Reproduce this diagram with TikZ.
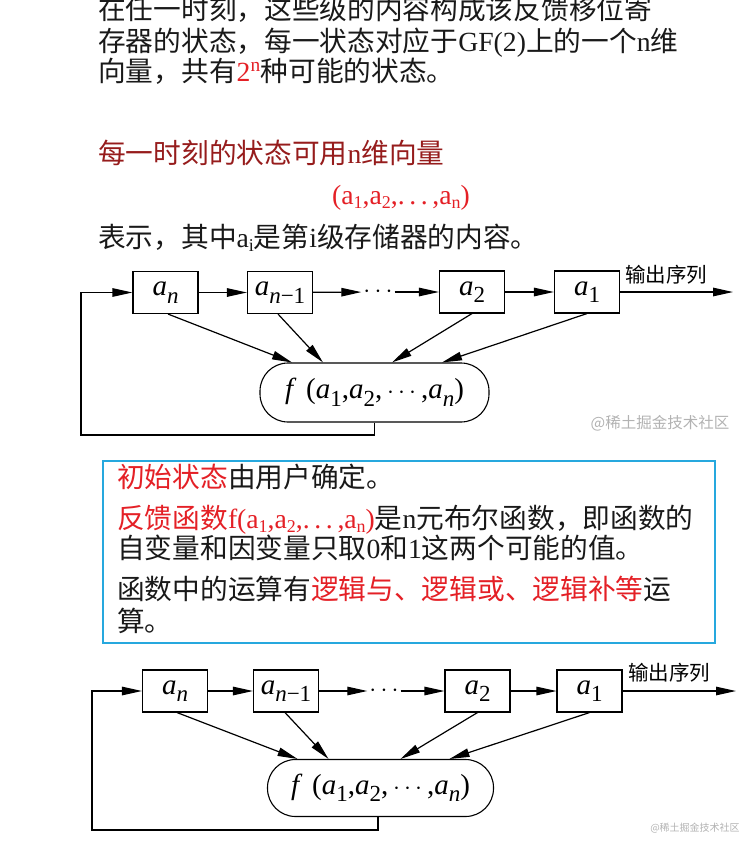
\documentclass[tikz,border=0pt]{standalone}
\usepackage{fontspec}
\setmainfont{Liberation Serif}
\newfontfamily\cjkf{Noto Sans CJK SC}
\usetikzlibrary{arrows.meta}
\definecolor{myred}{RGB}{228,32,38}
\definecolor{dred}{RGB}{150,28,28}
\definecolor{myblue}{RGB}{38,168,222}
\definecolor{txt}{RGB}{25,25,25}
\definecolor{wm}{RGB}{178,178,178}
\newcommand\zh[1]{{\cjkf #1}}
% subscript for diagram labels (29pt base)
\newcommand\lsub[2]{\textit{#1}\raisebox{-7.5pt}{\fontsize{23}{24}\selectfont #2}}
% subscript for running text (27.7pt base)
\newcommand\tsub[2]{#1\raisebox{-4.5pt}{\fontsize{18}{20}\selectfont #2}}
\newcommand\flabel{\textit{f}\,\,(\lsub{a}{1},\lsub{a}{2},\,$\cdots$\,,\lsub{a}{\textit{n}})}
\newcommand\avec{(\tsub{a}{1},\tsub{a}{2},.\,.\,.\,,\tsub{a}{n})}
\tikzset{
  ln/.style={anchor=base west, inner sep=0, font=\fontsize{27.7}{30}\selectfont, text=txt},
  reg/.style={draw, line width=1.1pt, minimum width=65, minimum height=42, inner sep=0, font=\fontsize{29}{30}\selectfont},
  fn/.style={draw, line width=1.1pt, rounded corners=28pt, minimum width=229, minimum height=59, inner sep=0, font=\fontsize{29}{30}\selectfont},
  arr/.style={line width=1.2pt, -{Triangle[length=20pt,width=8.5pt]}},
  outl/.style={font=\cjkf\fontsize{20.5}{22}\selectfont, inner sep=0},
  wmk/.style={text=wm, inner sep=0}
}
\begin{document}
\begin{tikzpicture}[x=1pt,y=-1pt]
\useasboundingbox (0,0) rectangle (754,849);
% top text
\node[ln] (t1) at (98,19) {\zh{在任一时刻，这些级的内容构成该反馈移位寄}};
\node[ln] (t2) at (98,51) {\zh{存器的状态，每一状态对应于}GF(2)\zh{上的一个}n\zh{维}};
\node[ln] (t3) at (98,81) {\zh{向量，共有}\textcolor{myred}{2\textsuperscript{n}}\zh{种可能的状态。}};
\node[ln,text=dred] (t4) at (98,163) {\zh{每一时刻的状态可用}n\zh{维向量}};
\node[ln,text=myred] (t5) at (332,204) {\avec};
\node[ln] (t6) at (98,247) {\zh{表示，其中}\tsub{a}{i}\zh{是第}i\zh{级存储器的内容。}};
% diagram 1
\node[reg] (an1) at (165.5,292.5) {\lsub{a}{\textit{n}}};
\node[reg] (am1) at (280,292.5) {\lsub{a}{\textit{n}−1}};
\node[inner sep=2pt, font=\fontsize{29}{30}\selectfont] (dt1) at (378,292) {$\cdots$};
\node[reg] (a21) at (472,292) {\lsub{a}{2}};
\node[reg] (a11) at (587,292) {\lsub{a}{1}};
\node[fn] (f1) at (374.5,392.5) {\flabel};
\coordinate (o1) at (733,292);
\coordinate (fb1) at (81,435);
\node[outl] (ol1) at (666,275) {输出序列};
\node[wmk, font=\cjkf\fontsize{15.5}{17}\selectfont] (w1) at (660,423) {@稀土掘金技术社区};
\draw[arr] (an1) -- (am1);
\draw[arr] (am1) -- (dt1);
\draw[arr] (dt1) -- (a21);
\draw[arr] (a21) -- (a11);
\draw[arr] (a11.east) -- (o1);
\draw[arr] ([xshift=2.5]an1.south) -- ([xshift=-82.5]f1.north);
\draw[arr] ([xshift=-2]am1.south) -- ([xshift=-51.5]f1.north);
\draw[arr] (a21.south) -- ([xshift=17.5]f1.north);
\draw[arr] (a11.south) -- ([xshift=67.5]f1.north);
\draw[arr] (f1.south) |- (fb1) |- (an1.west);
% blue box
\node[draw=myblue, line width=2.5pt, minimum width=612, minimum height=182, inner sep=0] (bx) at (409,552) {};
\node[ln] (b1) at (117,487) {\textcolor{myred}{\zh{初始状态}}\zh{由用户确定。}};
\node[ln] (b2) at (117,528) {\textcolor{myred}{\zh{反馈函数}f\avec}\zh{是}n\zh{元布尔函数，即函数的}};
\node[ln] (b3) at (117,558) {\zh{自变量和因变量只取}0\zh{和}1\zh{这两个可能的值。}};
\node[ln] (b4) at (117,599) {\zh{函数中的运算有}\textcolor{myred}{\zh{逻辑与、逻辑或、逻辑补等}}\zh{运}};
\node[ln] (b5) at (117,631) {\zh{算。}};
% diagram 2
\node[reg] (an2) at (175,691) {\lsub{a}{\textit{n}}};
\node[reg] (am2) at (286,691) {\lsub{a}{\textit{n}−1}};
\node[inner sep=2pt, font=\fontsize{29}{30}\selectfont] (dt2) at (384,691) {$\cdots$};
\node[reg] (a22) at (477.5,691) {\lsub{a}{2}};
\node[reg] (a12) at (589.5,691) {\lsub{a}{1}};
\node[fn, minimum width=226, minimum height=57] (f2) at (380.5,788) {\flabel};
\coordinate (o2) at (736,691);
\coordinate (fb2) at (92,830);
\node[outl] (ol2) at (669,673) {输出序列};
\node[wmk, font=\cjkf\fontsize{10}{12}\selectfont] (w2) at (695,828) {@稀土掘金技术社区};
\draw[arr] (an2) -- (am2);
\draw[arr] (am2) -- (dt2);
\draw[arr] (dt2) -- (a22);
\draw[arr] (a22) -- (a12);
\draw[arr] (a12.east) -- (o2);
\draw[arr] ([xshift=2]an2.south) -- ([xshift=-83]f2.north);
\draw[arr] ([xshift=-1]am2.south) -- ([xshift=-52]f2.north);
\draw[arr] (a22.south) -- ([xshift=20]f2.north);
\draw[arr] (a12.south) -- ([xshift=69]f2.north);
\draw[arr] ([xshift=-2.5]f2.south) |- (fb2) |- (an2.west);
\end{tikzpicture}
\end{document}
